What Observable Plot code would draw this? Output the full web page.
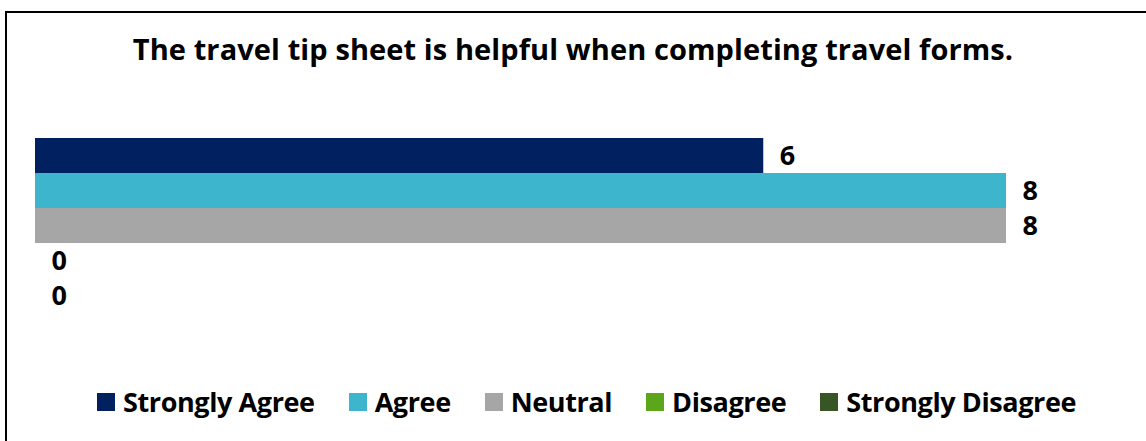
<!DOCTYPE html>
<html>
<head>
<meta charset="utf-8">
<script src="https://cdn.jsdelivr.net/npm/d3@7"></script>
<script src="https://cdn.jsdelivr.net/npm/@observablehq/plot@0.6"></script>
<style>
  html, body { margin: 0; padding: 0; background: #fff; }
  #wrap { position: relative; width: 1146px; height: 441px; overflow: hidden; font-family: "Open Sans", Lato, sans-serif; }
  #frame { position: absolute; left: 5px; top: 11px; width: 1200px; height: 500px; border-top: 2px solid #000; border-left: 2px solid #000; box-sizing: border-box; }
  #title { position: absolute; left: 0; width: 1146px; top: 34px; text-align: center; font-weight: 700; font-size: 29px; color: #000; line-height: 29px; white-space: nowrap; letter-spacing: 0.1px; }
  #chart { position: absolute; left: 0; top: 0; }
  #legend { position: absolute; left: 97px; top: 388px; display: flex; justify-content: flex-start; align-items: center; gap: 34px; font-weight: 700; font-size: 27px; color: #000; line-height: 27px; white-space: nowrap; letter-spacing: -0.4px; }
  .item { display: flex; align-items: center; }
  .sw { width: 18px; height: 18px; margin-right: 8px; }
</style>
</head>
<body>
<div id="wrap">
  <div id="frame"></div>
  <div id="chart"></div>
  <div id="title">The travel tip sheet is helpful when completing travel forms.</div>
  <div id="legend"></div>
</div>
<script>
const categories = ["Strongly Agree", "Agree", "Neutral", "Disagree", "Strongly Disagree"];
const values = [6, 8, 8, 0, 0];
const colors = ["#002060", "#3CB5CD", "#A6A6A6", "#5BA61A", "#375623"];

const data = categories.map((c, i) => ({category: c, value: values[i]}));

const plot = Plot.plot({
  width: 1146,
  height: 360,
  marginTop: 136,
  marginBottom: 45,
  marginLeft: 35,
  marginRight: 140,
  style: {background: "transparent"},
  x: {domain: [0, 8], axis: null},
  y: {domain: categories, axis: null, padding: 0},
  color: {domain: categories, range: colors},
  marks: [
    Plot.barX(data, {x: "value", y: "category", fill: "category"}),
    Plot.text(data, {x: "value", y: "category", text: d => String(d.value), textAnchor: "start", dx: 16, fontSize: 27, fontWeight: 700, fill: "#000", fontFamily: "'Open Sans', Lato, sans-serif"})
  ]
});
document.getElementById("chart").appendChild(plot);

const legend = document.getElementById("legend");
categories.forEach((c, i) => {
  const it = document.createElement("div");
  it.className = "item";
  const sw = document.createElement("span");
  sw.className = "sw";
  sw.style.background = colors[i];
  const t = document.createElement("span");
  t.textContent = c;
  it.appendChild(sw);
  it.appendChild(t);
  legend.appendChild(it);
});
</script>
</body>
</html>
